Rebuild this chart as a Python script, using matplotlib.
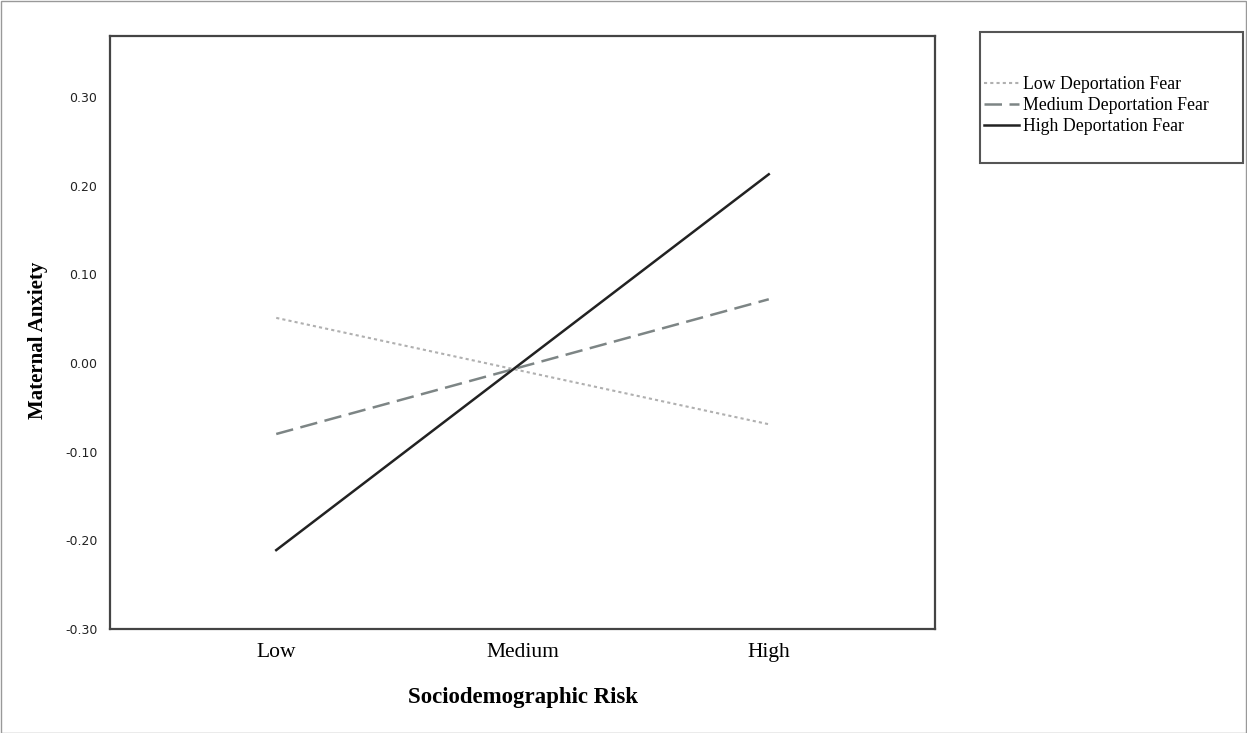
import matplotlib.pyplot as plt
from matplotlib.patches import Rectangle

risk_levels = ["Low", "Medium", "High"]
low_fear = [0.051, -0.009, -0.069]
medium_fear = [-0.080, -0.004, 0.072]
high_fear = [-0.211, 0.001, 0.213]
y_ticks = [-0.30, -0.20, -0.10, 0.00, 0.10, 0.20, 0.30]

serif = ["Liberation Serif", "DejaVu Serif"]

fig = plt.figure(figsize=(12.47, 7.33), dpi=100)
ax = fig.add_axes([110 / 1247, 1 - 629 / 733, 825 / 1247, 593 / 733])

x = range(len(risk_levels))
ax.plot(x, low_fear, color="#b0b0b0", lw=1.5, linestyle=(0, (1.5, 1.5)),
        label="Low Deportation Fear")
ax.plot(x, medium_fear, color="#7d8585", lw=1.8, linestyle=(0, (7, 3)),
        label="Medium Deportation Fear")
ax.plot(x, high_fear, color="#222222", lw=1.8, label="High Deportation Fear")

ax.set_xlim(-0.675, 2.675)
ax.set_ylim(-0.30, 0.369)
ax.set_xticks(list(x))
ax.set_xticklabels(risk_levels, fontfamily=serif, fontsize=15.5)
ax.set_yticks(y_ticks)
ax.set_yticklabels([f"{v:.2f}" for v in y_ticks], fontsize=9, color="#222222")
ax.tick_params(axis="both", length=0)
ax.tick_params(axis="x", pad=10)
ax.tick_params(axis="y", pad=9)

for s in ax.spines.values():
    s.set_color("#444444")
    s.set_linewidth(1.6)

ax.set_xlabel("Sociodemographic Risk", fontfamily=serif, fontweight="bold",
              fontsize=16.5, labelpad=18)
ax.set_ylabel("Maternal Anxiety", fontfamily=serif, fontweight="bold",
              fontsize=15)
ax.yaxis.set_label_coords(-0.075, 0.486)

# legend box and outer border
fig.patches.append(Rectangle((980 / 1247, 1 - 163 / 733), 263 / 1247, 131 / 733,
                             transform=fig.transFigure, fill=False,
                             edgecolor="#555555", lw=1.5))
fig.patches.append(Rectangle((0.5 / 1247, 0.5 / 733), 1245.5 / 1247, 731.5 / 733,
                             transform=fig.transFigure, fill=False,
                             edgecolor="#999999", lw=1))

ax.legend(loc="upper left", bbox_to_anchor=(984 / 1247, 1 - 76 / 733),
          bbox_transform=fig.transFigure, frameon=False, borderaxespad=0,
          borderpad=0, handlelength=1.95, handletextpad=0.25, labelspacing=0.22,
          prop={"family": serif, "size": 12.8})

fig.savefig("out.png", dpi=100)
